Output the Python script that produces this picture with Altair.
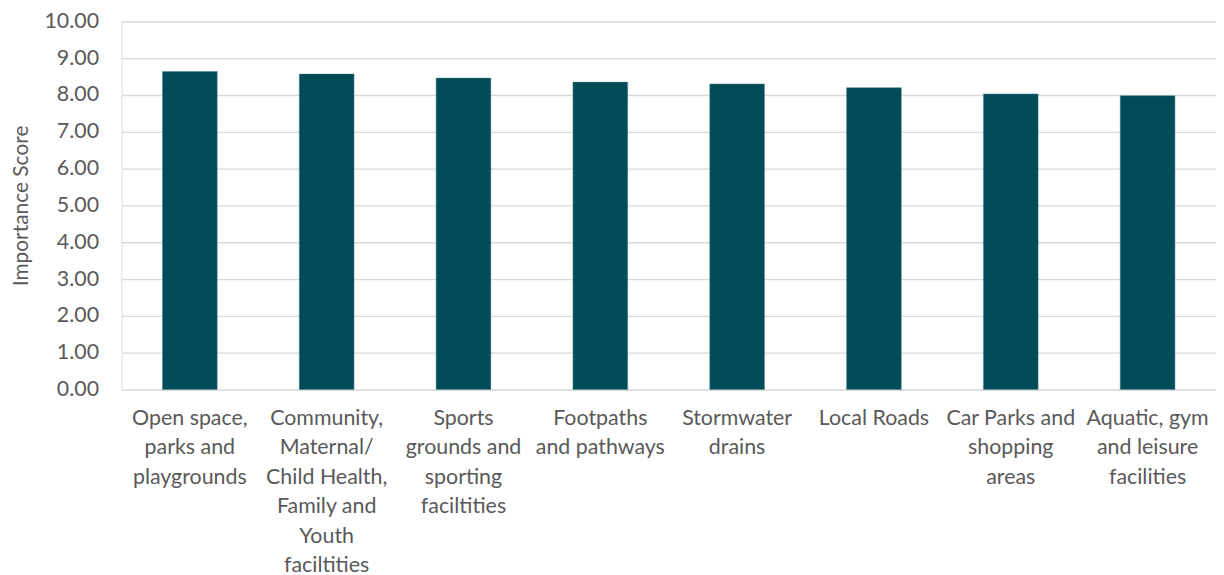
import altair as alt
import pandas as pd

categories = [
    "Open space,\nparks and\nplaygrounds",
    "Community,\nMaternal/\nChild Health,\nFamily and\nYouth\nfaciltities",
    "Sports\ngrounds and\nsporting\nfaciltities",
    "Footpaths\nand pathways",
    "Stormwater\ndrains",
    "Local Roads",
    "Car Parks and\nshopping\nareas",
    "Aquatic, gym\nand leisure\nfacilities",
]
scores = [8.64, 8.57, 8.46, 8.35, 8.30, 8.20, 8.03, 7.98]
y_ticks = [0, 1, 2, 3, 4, 5, 6, 7, 8, 9, 10]

df = pd.DataFrame({"category": categories, "score": scores})

FONT = "Lato"
GREY = "#595959"

chart = (
    alt.Chart(df)
    .mark_bar(color="#004B58", stroke="#4f8790", strokeWidth=0.5)
    .encode(
        x=alt.X(
            "category:N",
            sort=categories,
            scale=alt.Scale(paddingInner=0.6, paddingOuter=0.3),
            axis=alt.Axis(
                title=None,
                labelAngle=0,
                labelExpr="split(datum.label, '\\n')",
                labelLineHeight=29.6,
                labelFont=FONT,
                labelFontSize=21.5,
                labelColor=GREY,
                labelPadding=18,
                labelBaseline="top",
                labelLimit=0,
                domain=False,
                ticks=False,
                grid=False,
            ),
        ),
        y=alt.Y(
            "score:Q",
            scale=alt.Scale(domain=[0, 10], nice=False),
            axis=alt.Axis(
                title="Importance Score",
                titleFont=FONT,
                titleFontSize=21,
                titleFontWeight="normal",
                titleColor=GREY,
                titlePadding=12,
                values=y_ticks,
                format=".2f",
                labelFont=FONT,
                labelFontSize=21.5,
                labelColor=GREY,
                labelPadding=23,
                domain=False,
                ticks=False,
                grid=True,
                gridColor="#D9D9D9",
                gridWidth=1.3,
            ),
        ),
    )
    .properties(width=1100, height=370, padding={"left": 3, "top": 1, "right": 0, "bottom": 5})
    .configure_view(stroke=None)
    .configure(background="white")
)

chart.save("out.html", embed_options={"renderer": "svg", "actions": False})
